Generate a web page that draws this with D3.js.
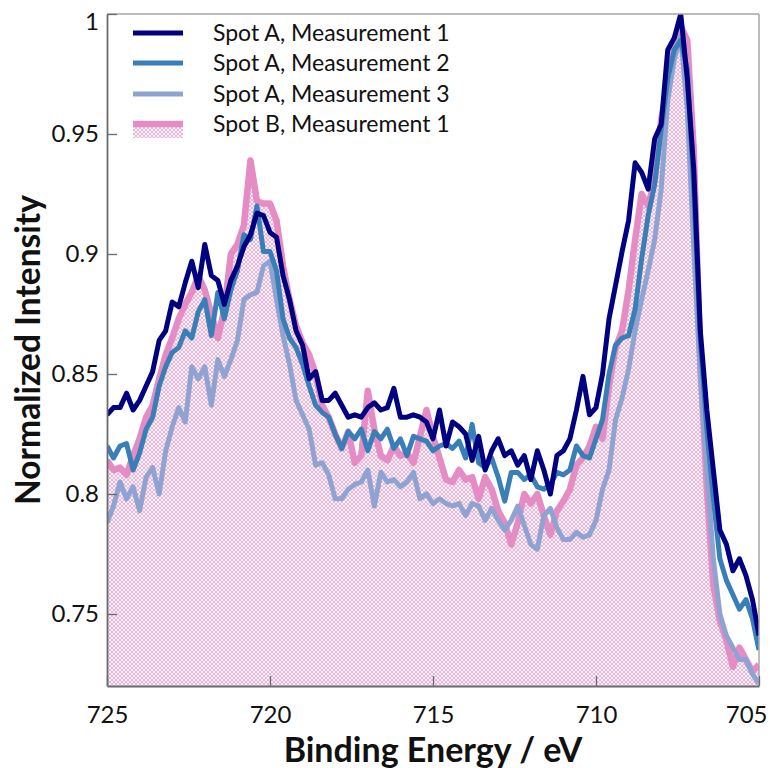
<!DOCTYPE html>
<html>
<head>
<meta charset="utf-8">
<script src="https://cdn.jsdelivr.net/npm/d3@7"></script>
<style>
  html, body { margin: 0; padding: 0; background: #fff; }
  svg { display: block; }
  text { font-family: Lato, "Open Sans", sans-serif; fill: #111; }
</style>
</head>
<body>
<svg id="chart" width="770" height="768"></svg>
<script>
// Fe 2p spectra, normalised to the 2p3/2 maximum, 0.2 eV steps from 725 to 705 eV
const startEnergy = 725;
const stepEnergy = 0.2;

const spotA1 = [
  0.833, 0.836, 0.836, 0.842, 0.835, 0.839, 0.845, 0.851, 0.864, 0.868,
  0.880, 0.878, 0.888, 0.897, 0.886, 0.904, 0.891, 0.889, 0.879, 0.889,
  0.895, 0.903, 0.908, 0.917, 0.916, 0.909, 0.907, 0.891, 0.881, 0.868,
  0.862, 0.848, 0.851, 0.839, 0.839, 0.842, 0.837, 0.832, 0.833, 0.832,
  0.836, 0.838, 0.835, 0.836, 0.844, 0.832, 0.832, 0.833, 0.832, 0.830,
  0.823, 0.835, 0.820, 0.830, 0.828, 0.825, 0.814, 0.824, 0.810, 0.818,
  0.823, 0.816, 0.818, 0.812, 0.816, 0.806, 0.818, 0.810, 0.800, 0.816,
  0.818, 0.823, 0.835, 0.849, 0.833, 0.836, 0.850, 0.873, 0.887, 0.901,
  0.914, 0.938, 0.934, 0.927, 0.948, 0.954, 0.985, 0.990, 1.000, 0.973,
  0.935, 0.868, 0.835, 0.810, 0.785, 0.779, 0.768, 0.773, 0.766, 0.756,
  0.741
];

const spotA2 = [
  0.820, 0.815, 0.820, 0.821, 0.810, 0.817, 0.827, 0.832, 0.845, 0.853,
  0.859, 0.861, 0.868, 0.865, 0.876, 0.881, 0.866, 0.884, 0.873, 0.885,
  0.893, 0.908, 0.906, 0.920, 0.901, 0.901, 0.893, 0.873, 0.865, 0.861,
  0.854, 0.845, 0.837, 0.834, 0.832, 0.825, 0.819, 0.826, 0.823, 0.827,
  0.818, 0.826, 0.823, 0.827, 0.819, 0.823, 0.816, 0.824, 0.823, 0.822,
  0.818, 0.820, 0.821, 0.819, 0.822, 0.815, 0.829, 0.813, 0.811, 0.815,
  0.807, 0.797, 0.809, 0.809, 0.806, 0.808, 0.803, 0.802, 0.804, 0.809,
  0.808, 0.810, 0.820, 0.816, 0.815, 0.823, 0.831, 0.850, 0.862, 0.865,
  0.866, 0.877, 0.898, 0.916, 0.929, 0.952, 0.973, 0.985, 0.989, 0.977,
  0.927, 0.864, 0.827, 0.798, 0.773, 0.764, 0.758, 0.752, 0.756, 0.748,
  0.735
];

const spotA3 = [
  0.788, 0.795, 0.805, 0.798, 0.803, 0.793, 0.807, 0.811, 0.800, 0.818,
  0.828, 0.836, 0.830, 0.853, 0.848, 0.853, 0.837, 0.856, 0.849, 0.856,
  0.864, 0.881, 0.883, 0.884, 0.895, 0.897, 0.881, 0.866, 0.854, 0.839,
  0.833, 0.827, 0.812, 0.813, 0.808, 0.798, 0.798, 0.802, 0.804, 0.805,
  0.810, 0.795, 0.809, 0.805, 0.806, 0.803, 0.805, 0.809, 0.798, 0.800,
  0.796, 0.798, 0.796, 0.795, 0.796, 0.791, 0.796, 0.795, 0.789, 0.794,
  0.789, 0.785, 0.789, 0.795, 0.787, 0.779, 0.777, 0.791, 0.794, 0.786,
  0.781, 0.781, 0.784, 0.782, 0.783, 0.789, 0.802, 0.810, 0.831, 0.840,
  0.852, 0.868, 0.881, 0.893, 0.906, 0.927, 0.964, 0.981, 0.991, 0.960,
  0.902, 0.848, 0.810, 0.773, 0.750, 0.741, 0.736, 0.731, 0.731, 0.725,
  0.721
];

const spotB1 = [
  0.814, 0.810, 0.811, 0.808, 0.816, 0.823, 0.832, 0.837, 0.848, 0.858,
  0.865, 0.873, 0.879, 0.884, 0.891, 0.885, 0.875, 0.865, 0.877, 0.900,
  0.904, 0.912, 0.939, 0.922, 0.921, 0.921, 0.914, 0.895, 0.881, 0.870,
  0.863, 0.858, 0.850, 0.837, 0.832, 0.825, 0.819, 0.826, 0.813, 0.816,
  0.843, 0.827, 0.816, 0.814, 0.820, 0.816, 0.817, 0.813, 0.824, 0.835,
  0.824, 0.815, 0.806, 0.805, 0.810, 0.806, 0.807, 0.798, 0.807, 0.802,
  0.793, 0.788, 0.779, 0.788, 0.800, 0.796, 0.800, 0.791, 0.783, 0.793,
  0.797, 0.802, 0.812, 0.815, 0.820, 0.828, 0.823, 0.845, 0.861, 0.868,
  0.885, 0.906, 0.925, 0.920, 0.931, 0.956, 0.970, 0.987, 0.995, 0.989,
  0.943, 0.856, 0.802, 0.762, 0.747, 0.739, 0.728, 0.736, 0.731, 0.726,
  0.729
];

const seriesNames = [
  "Spot A, Measurement 1",
  "Spot A, Measurement 2",
  "Spot A, Measurement 3",
  "Spot B, Measurement 1"
];
const seriesColors = ["#000080", "#3a7eb8", "#8ea3d1", "#e68cc5"];

const xTickValues = [725, 720, 715, 710, 705];
const yTickValues = [0.75, 0.8, 0.85, 0.9, 0.95, 1];

const xTitle = "Binding Energy / eV";
const yTitle = "Normalized Intensity";

// ---- layout ----
const W = 770;
const plot = { left: 107, right: 759, top: 14, bottom: 686 };

const svg = d3.select("#chart");

const x = d3.scaleLinear().domain([725, 705]).range([plot.left, plot.right]);
const y = d3.scaleLinear().domain([0.72, 1.0]).range([plot.bottom, plot.top]);

const energies = spotA1.map((_, i) => +(startEnergy - i * stepEnergy).toFixed(1));
const toPoints = vals => vals.map((v, i) => ({ e: energies[i], v }));

const defs = svg.append("defs");

// fine pink cross-hatch used below the Spot B trace
const pat = defs.append("pattern")
  .attr("id", "hatch")
  .attr("patternUnits", "userSpaceOnUse")
  .attr("width", 4).attr("height", 4);
pat.append("rect").attr("width", 4).attr("height", 4).attr("fill", "#fbf0f7");
pat.append("path")
  .attr("d", "M0,0 L4,4 M4,0 L0,4")
  .attr("stroke", "#e3a9d2")
  .attr("stroke-width", 0.8);

defs.append("clipPath").attr("id", "plotClip")
  .append("rect")
  .attr("x", plot.left).attr("y", plot.top)
  .attr("width", plot.right - plot.left)
  .attr("height", plot.bottom - plot.top);

const line = d3.line().x(d => x(d.e)).y(d => y(d.v));
const area = d3.area().x(d => x(d.e)).y0(y(0.72)).y1(d => y(d.v));

const g = svg.append("g").attr("clip-path", "url(#plotClip)");

g.append("path")
  .datum(toPoints(spotB1))
  .attr("d", area)
  .attr("fill", "url(#hatch)");

const traces = [
  { vals: spotB1, color: seriesColors[3], width: 6.5 },
  { vals: spotA3, color: seriesColors[2], width: 5 },
  { vals: spotA2, color: seriesColors[1], width: 5 },
  { vals: spotA1, color: seriesColors[0], width: 5 }
];

traces.forEach(t => {
  g.append("path")
    .datum(toPoints(t.vals))
    .attr("d", line)
    .attr("fill", "none")
    .attr("stroke", t.color)
    .attr("stroke-width", t.width)
    .attr("stroke-linejoin", "round");
});

// ---- frame ----
svg.append("line")
  .attr("x1", plot.left).attr("x2", plot.right)
  .attr("y1", plot.top).attr("y2", plot.top)
  .attr("stroke", "#a6a6a6").attr("stroke-width", 1.5);
svg.append("line")
  .attr("x1", plot.right).attr("x2", plot.right)
  .attr("y1", plot.top).attr("y2", plot.bottom)
  .attr("stroke", "#a6a6a6").attr("stroke-width", 1.5);

// ---- axes (ticks point inward) ----
const xAxis = svg.append("g")
  .attr("transform", `translate(0,${plot.bottom})`)
  .call(d3.axisBottom(x).tickValues(xTickValues).tickSize(-10).tickSizeOuter(0)
    .tickPadding(20).tickFormat(d3.format("d")));

const yAxis = svg.append("g")
  .attr("transform", `translate(${plot.left},0)`)
  .call(d3.axisLeft(y).tickValues(yTickValues).tickSize(-10).tickSizeOuter(0)
    .tickPadding(8).tickFormat(d => String(+d.toFixed(2))));

[xAxis, yAxis].forEach(ax => {
  ax.select(".domain").attr("stroke", "#6b6b6b").attr("stroke-width", 1.8);
  ax.selectAll(".tick line").attr("stroke", "#6b6b6b").attr("stroke-width", 1.3);
  ax.selectAll(".tick text")
    .style("font-family", "Lato, 'Open Sans', sans-serif")
    .style("font-size", "24px")
    .attr("fill", "#111");
});
yAxis.selectAll(".tick").filter(d => d === 1).select("text").attr("dy", "0.65em");

// keep the last energy label inside the page
xAxis.selectAll(".tick").filter(d => d === 705).select("text")
  .attr("text-anchor", "end")
  .attr("x", W - 3 - x(705));

// ---- titles ----
svg.append("text")
  .attr("x", (plot.left + plot.right) / 2)
  .attr("y", 762)
  .attr("text-anchor", "middle")
  .style("font-size", "34px")
  .style("font-weight", "bold")
  .text(xTitle);

svg.append("text")
  .attr("transform", `translate(40,${(plot.top + plot.bottom) / 2}) rotate(-90)`)
  .attr("text-anchor", "middle")
  .style("font-size", "33.5px")
  .style("font-weight", "bold")
  .text(yTitle);

// ---- legend ----
const legend = svg.append("g");
const legendRows = [33, 63, 94, 124];
seriesNames.forEach((name, i) => {
  const row = legend.append("g").attr("transform", `translate(0,${legendRows[i]})`);
  if (i === 3) {
    row.append("rect")
      .attr("x", 133).attr("y", 0).attr("width", 50).attr("height", 14)
      .attr("fill", "url(#hatch)");
  }
  row.append("line")
    .attr("x1", 133).attr("x2", 183)
    .attr("y1", 0).attr("y2", 0)
    .attr("stroke", seriesColors[i])
    .attr("stroke-width", i === 3 ? 6.5 : 5);
  row.append("text")
    .attr("x", 213).attr("y", 0).attr("dy", "0.35em")
    .style("font-size", "23px")
    .text(name);
});
</script>
</body>
</html>
